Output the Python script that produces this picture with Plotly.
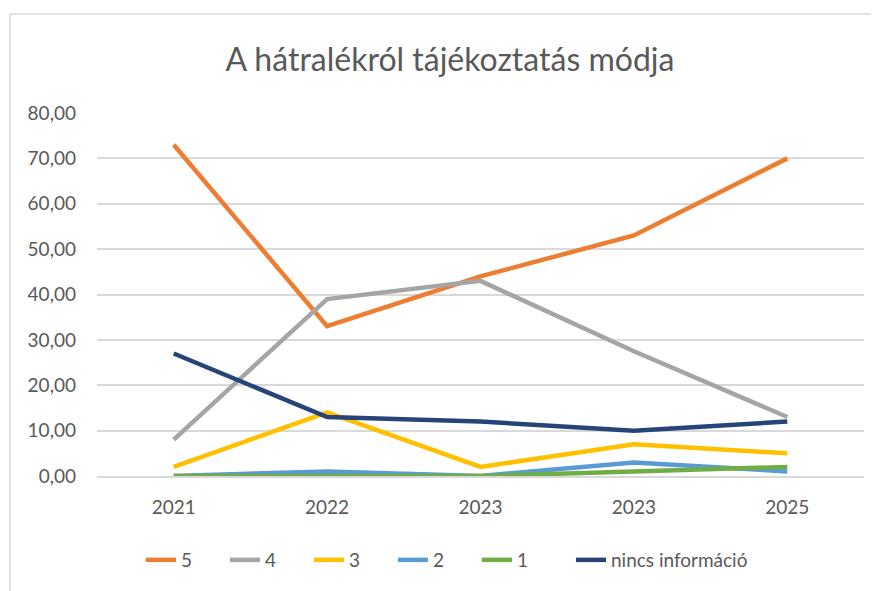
import plotly.graph_objects as go

# category labels (the source repeats "2023")
years = ["2021", "2022", "2023", "2023", "2025"]

val_5 = [73, 33, 44, 53, 70]
val_4 = [8, 39, 43, 27.5, 13]
val_3 = [2, 14, 2, 7, 5]
val_2 = [0, 1, 0, 3, 1]
val_1 = [0, 0, 0, 1, 2]
val_none = [27, 13, 12, 10, 12]

series = [
    ("5", val_5, "#ED7D31"),
    ("4", val_4, "#A5A5A5"),
    ("3", val_3, "#FFC000"),
    ("2", val_2, "#5B9BD5"),
    ("1", val_1, "#70AD47"),
    ("nincs információ", val_none, "#264478"),
]

# page body adds an 8px margin, so the figure is 8px smaller and
# every reference pixel position is shifted by -8
OFF = 8
W, H = 879 - OFF, 591 - OFF
L, R, T, B = 97 - OFF, 15, 113 - OFF, 115
pw, ph = W - L - R, H - T - B

FONT = "Lato"
GREY = "#595959"

xpos = list(range(len(years)))

fig = go.Figure()
for name, vals, color in series:
    # the long last label gets its own legend so the short ones can be evenly spaced
    fig.add_trace(go.Scatter(
        x=xpos, y=vals, name=name, mode="lines",
        line=dict(color=color, width=4.5),
        legend="legend2" if len(name) > 2 else "legend",
    ))


def px_x(p):
    return (p - OFF - L) / pw


def px_y(p):
    return (H - B - (p - OFF)) / ph


legend_common = dict(orientation="h", y=px_y(560), yanchor="middle", xanchor="left",
                     font=dict(family=FONT, size=19, color=GREY),
                     itemwidth=30, tracegroupgap=0)

fig.update_layout(
    width=W, height=H,
    margin=dict(l=L, r=R, t=T, b=B),
    paper_bgcolor="white", plot_bgcolor="white",
    separators=", ",
    font=dict(family=FONT, color=GREY, size=19),
    title=dict(text="A hátralékról tájékoztatás módja",
               x=(450 - OFF) / W, xanchor="center",
               y=1 - (60 - OFF) / H, yanchor="middle",
               font=dict(family=FONT, size=32, color=GREY)),
    showlegend=True,
    legend=dict(x=px_x(141), entrywidth=39, entrywidthmode="pixels", **legend_common),
    legend2=dict(x=px_x(571), **legend_common),
    shapes=[
        dict(type="line", xref="paper", yref="paper",
             x0=px_x(10), x1=px_x(879), y0=px_y(14), y1=px_y(14),
             line=dict(color="#D9D9D9", width=1.5)),
        dict(type="line", xref="paper", yref="paper",
             x0=px_x(10), x1=px_x(10), y0=px_y(14), y1=px_y(591),
             line=dict(color="#D9D9D9", width=1.5)),
    ],
)

fig.update_xaxes(
    range=[-0.5, len(years) - 0.5],
    tickmode="array", tickvals=xpos, ticktext=years,
    showgrid=False, zeroline=False,
    showline=True, linecolor="#D9D9D9", linewidth=1.5,
    ticks="", ticklabelstandoff=13,
    tickfont=dict(family=FONT, size=19, color=GREY),
)
fig.update_yaxes(
    range=[0, 80], dtick=10,
    tickformat=".2f",
    showgrid=True, gridcolor="#D9D9D9", gridwidth=1.5,
    zeroline=False, showline=False, ticks="",
    ticklabelstandoff=20,
    tickfont=dict(family=FONT, size=19, color=GREY),
)

fig.write_html("out.html")
